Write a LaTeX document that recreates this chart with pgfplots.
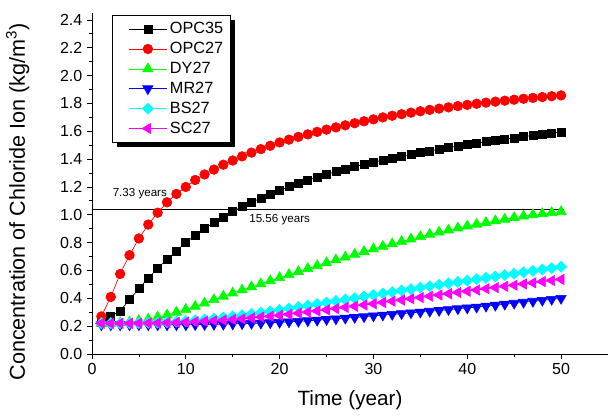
\documentclass[border=0pt]{standalone}
\usepackage{fontspec}
\setmainfont{Liberation Sans}
\usepackage{pgfplots}
\usepackage{pgfplotstable}
\pgfplotsset{compat=1.18}
\usetikzlibrary{shadows}
\makeatletter
\tikzset{nopreactions/.code={\let\tikz@preactions\pgfutil@empty}}
\makeatother
\definecolor{cBlack}{RGB}{0,0,0}
\definecolor{cRed}{RGB}{255,0,0}
\definecolor{cGreen}{RGB}{0,255,0}
\definecolor{cBlue}{RGB}{0,0,255}
\definecolor{cCyan}{RGB}{0,255,255}
\definecolor{cMagenta}{RGB}{255,0,255}

\pgfplotstableread{
t opc35 opc27 dy27 mr27 bs27 sc27
1 0.23 0.27 0.22 0.21 0.22 0.22
2 0.27 0.41 0.22 0.21 0.22 0.22
3 0.31 0.575 0.225 0.21 0.22 0.22
4 0.39 0.71 0.23 0.21 0.221 0.22
5 0.47 0.83 0.24 0.21 0.222 0.221
6 0.545 0.93 0.25 0.21 0.224 0.222
7 0.615 1.015 0.265 0.21 0.226 0.223
8 0.68 1.09 0.28 0.21 0.229 0.225
9 0.74 1.15 0.30 0.21 0.233 0.227
10 0.80 1.20 0.32 0.21 0.237 0.229
11 0.855 1.25 0.342 0.211 0.242 0.232
12 0.90 1.29 0.365 0.212 0.248 0.235
13 0.945 1.325 0.39 0.213 0.255 0.239
14 0.985 1.36 0.415 0.214 0.262 0.243
15 1.025 1.39 0.438 0.216 0.27 0.248
16 1.058 1.42 0.46 0.218 0.279 0.253
17 1.09 1.447 0.482 0.22 0.288 0.259
18 1.12 1.472 0.504 0.222 0.297 0.265
19 1.15 1.496 0.526 0.225 0.307 0.271
20 1.177 1.52 0.548 0.228 0.317 0.278
21 1.202 1.54 0.57 0.231 0.327 0.285
22 1.226 1.56 0.592 0.235 0.338 0.293
23 1.248 1.578 0.613 0.239 0.348 0.301
24 1.27 1.596 0.634 0.243 0.359 0.309
25 1.29 1.612 0.655 0.248 0.37 0.317
26 1.31 1.628 0.676 0.253 0.381 0.326
27 1.328 1.643 0.696 0.258 0.392 0.335
28 1.346 1.658 0.716 0.263 0.402 0.343
29 1.362 1.672 0.736 0.268 0.413 0.352
30 1.378 1.686 0.755 0.274 0.424 0.361
31 1.393 1.70 0.773 0.28 0.435 0.37
32 1.407 1.712 0.791 0.285 0.445 0.379
33 1.421 1.723 0.809 0.29 0.456 0.388
34 1.434 1.734 0.826 0.296 0.466 0.397
35 1.447 1.744 0.843 0.301 0.477 0.406
36 1.459 1.754 0.859 0.307 0.487 0.415
37 1.471 1.763 0.875 0.313 0.497 0.424
38 1.483 1.772 0.89 0.319 0.507 0.433
39 1.494 1.781 0.905 0.325 0.517 0.442
40 1.505 1.79 0.919 0.331 0.527 0.451
41 1.515 1.798 0.932 0.337 0.537 0.46
42 1.525 1.806 0.944 0.344 0.547 0.469
43 1.535 1.813 0.956 0.351 0.557 0.477
44 1.544 1.82 0.968 0.358 0.567 0.486
45 1.553 1.827 0.98 0.365 0.577 0.494
46 1.562 1.834 0.99 0.372 0.587 0.503
47 1.571 1.84 1.0 0.379 0.597 0.511
48 1.58 1.846 1.008 0.386 0.607 0.52
49 1.588 1.852 1.015 0.393 0.617 0.528
50 1.596 1.858 1.022 0.40 0.627 0.536
}\datatable

\begin{document}
\begin{tikzpicture}
\useasboundingbox (0,0) rectangle (456pt,312.75pt);
\begin{axis}[
  at={(69pt,47.25pt)}, anchor=south west,
  scale only axis, width=387pt, height=255.75pt,
  xmin=0, xmax=55, ymin=0, ymax=2.45,
  axis x line*=bottom, axis y line*=left,
  axis line style={line width=0.6pt},
  xtick={0,10,20,30,40,50}, minor xtick={5,15,25,35,45},
  ytick={0,0.2,0.4,0.6,0.8,1.0,1.2,1.4,1.6,1.8,2.0,2.2,2.4},
  minor ytick={0.1,0.3,0.5,0.7,0.9,1.1,1.3,1.5,1.7,1.9,2.1,2.3},
  tick align=outside,
  major tick length=3.75pt, minor tick length=2.25pt,
  tick style={black, line width=0.6pt},
  /pgf/number format/assume math mode=true,
  ticklabel style={font=\fontsize{12}{12}\selectfont},
  y tick label style={/pgf/number format/.cd, fixed, fixed zerofill, precision=1},
  xlabel={Time (year)},
  ylabel={Concentration of Chloride Ion (kg/m\textsuperscript{3})},
  every axis x label/.style={at={(axis description cs:0.5,-0.135)}, anchor=center, font=\fontsize{15.5}{16}\selectfont},
  every axis y label/.style={at={(axis description cs:-0.144,0.446)}, anchor=center, rotate=90, font=\fontsize{16.2}{17}\selectfont},
  legend style={at={(axis description cs:0.039,0.994)}, anchor=north west,
    draw=black, line width=0.6pt, fill=white,
    font=\fontsize{12.2}{13}\selectfont,
    drop shadow={shadow xshift=3.5pt, shadow yshift=-3.5pt, fill=black, opacity=1},
    cells={anchor=west}, row sep=2.9pt, inner xsep=3.5pt, inner ysep=4.2pt,
    nodes={inner xsep=1.8pt, inner ysep=1pt}},
  legend image code/.code={\path[nopreactions] (-0.29cm,0cm); \draw[nopreactions, mark repeat=2, mark phase=2, line width=0.5pt] plot coordinates {(0cm,0cm) (0.51cm,0cm) (1.02cm,0cm)};},
]
\addplot[black, line width=0.6pt, forget plot] coordinates {(0,1.04) (50.3,1.04)};
\addplot[cBlack, line width=0.5pt, mark=square*, mark size=3pt] table[x=t,y=opc35] {\datatable};
\addlegendentry{OPC35}
\addplot[cRed, line width=0.5pt, mark=*, mark size=3.6pt] table[x=t,y=opc27] {\datatable};
\addlegendentry{OPC27}
\addplot[cGreen, line width=0.5pt, mark=triangle*, mark size=4.4pt] table[x=t,y=dy27] {\datatable};
\addlegendentry{DY27}
\addplot[cBlue, line width=0.5pt, mark=triangle*, mark size=4.4pt, every mark/.append style={rotate=180}] table[x=t,y=mr27] {\datatable};
\addlegendentry{MR27}
\addplot[cCyan, line width=0.5pt, mark=square*, mark size=2.9pt, every mark/.append style={rotate=45}] table[x=t,y=bs27] {\datatable};
\addlegendentry{BS27}
\addplot[cMagenta, line width=0.5pt, mark=triangle*, mark size=4.4pt, every mark/.append style={rotate=90}] table[x=t,y=sc27] {\datatable};
\addlegendentry{SC27}
\node[font=\fontsize{8.7}{9}\selectfont] at (axis cs:5.1,1.15) {7.33 years};
\node[font=\fontsize{8.7}{9}\selectfont] at (axis cs:20.0,0.963) {15.56 years};
\end{axis}
\end{tikzpicture}
\end{document}
